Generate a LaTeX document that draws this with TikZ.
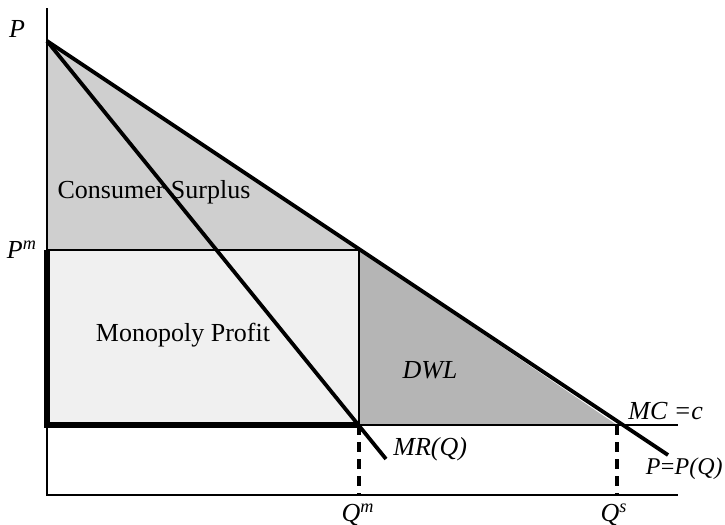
\documentclass[tikz,border=0pt]{standalone}
\usepackage{fontspec}
\setmainfont{Liberation Serif}
\usetikzlibrary{positioning}

\begin{document}
\begin{tikzpicture}[
    x=0.5pt, y=-0.5pt,
    every node/.style={font=\fontsize{13}{15}\selectfont, inner sep=1pt},
    axis/.style={line width=1.3pt},
    curve/.style={line width=1.9pt},
    heavy/.style={line width=2.8pt},
    guide/.style={line width=1.9pt, dash pattern=on 5pt off 3.5pt},
    lbl/.style={font=\fontsize{13}{15}\selectfont\itshape}
]
\useasboundingbox (0,0) rectangle (725,525);

% points of the diagram
\coordinate (top) at (47,8);
\coordinate (orig) at (47,495);
\coordinate (xend) at (678,495);
\coordinate (pmax) at (47,41);
\coordinate (pm) at (47,250);
\coordinate (mpt) at (359,250);
\coordinate (mbase) at (359,425);
\coordinate (c0) at (47,425);
\coordinate (spt) at (617,425);
\coordinate (mcend) at (678,425);
\coordinate (dend) at (668,455);
\coordinate (mrend) at (386,459);
\coordinate (qm) at (359,495);
\coordinate (qs) at (617,495);

% surplus areas
\fill[gray!38] (pmax) -- (mpt) -- (pm) -- cycle;
\fill[gray!12] (pm) rectangle (mbase);
\fill[gray!58] (mpt) -- (spt) -- (mbase) -- cycle;

% axes
\draw[axis] (top) -- (orig) -- (xend);

% curves
\draw[axis] (pm) -- (mpt) -- (mbase);
\draw[axis] (c0) -- (mcend);
\draw[heavy] (pm) -- (c0) -- (mbase);
\draw[curve] (pmax) -- (dend);
\draw[curve] (pmax) -- (mrend);
\draw[guide] (mbase) -- (qm);
\draw[guide] (spt) -- (qs);

% labels
\node[lbl] (plab) at (17,29) {P};
\node[lbl] (pmlab) at (22,250) {P\textsuperscript{m}};
\node (cs) at (154,192) {Consumer Surplus};
\node (mp) at (183,335) {Monopoly Profit};
\node[lbl] (dwl) at (430,370) {DWL};
\node[lbl, anchor=west] (mclab) at (626,411) {MC =c};
\node[lbl, anchor=west] (mrlab) at (391,449) {MR(Q)};
\node[lbl, anchor=east, inner sep=0pt, font=\fontsize{12}{14}\selectfont\itshape] (dlab) at (723,469) {P\kern-0.5pt=\kern-0.5pt P(Q)};
\node[lbl] (qmlab) at (358,515) {Q\textsuperscript{m}};
\node[lbl] (qslab) at (614,515) {Q\textsuperscript{s}};
\end{tikzpicture}
\end{document}
